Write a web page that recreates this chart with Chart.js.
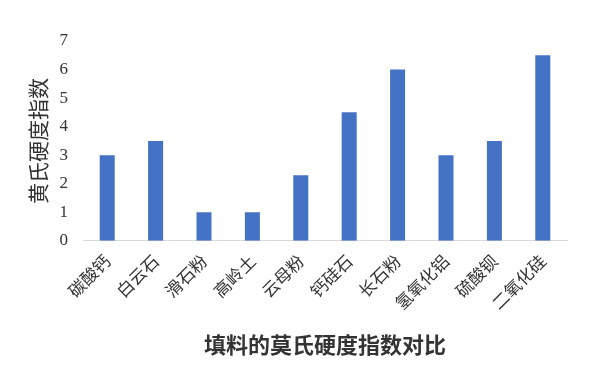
<!DOCTYPE html>
<html>
<head>
<meta charset="utf-8">
<script src="https://cdn.jsdelivr.net/npm/chart.js@4"></script>
<style>
  html, body { margin: 0; padding: 0; background: #fff; }
  #wrap { width: 597px; height: 371px; }
</style>
</head>
<body>
<div id="wrap"><canvas id="myChart" width="597" height="371"></canvas></div>
<script>
// 填料 names and Mohs hardness values
var categories = ['碳酸钙', '白云石', '滑石粉', '高岭土', '云母粉', '钙硅石', '长石粉', '氢氧化铝', '硫酸钡', '二氧化硅'];
var hardness = [3, 3.5, 1, 1, 2.3, 4.5, 6, 3, 3.5, 6.5];
var yTicks = [0, 1, 2, 3, 4, 5, 6, 7];

var cjk = '"Noto Sans CJK SC", sans-serif';
var textColor = '#333333';

var ctx = document.getElementById('myChart').getContext('2d');
var myChart = new Chart(ctx, {
    type: 'bar',
    data: {
        labels: categories,
        datasets: [{
            label: '莫氏硬度',
            data: hardness,
            backgroundColor: '#4472C4',
            borderWidth: 0,
            barPercentage: 0.31,
            categoryPercentage: 1
        }]
    },
    options: {
        responsive: false,
        animation: false,
        layout: {
            padding: { left: 20, right: 30, top: 41, bottom: 0 }
        },
        plugins: {
            legend: { display: false },
            tooltip: { enabled: false },
            title: {
                display: true,
                position: 'bottom',
                fullSize: false,
                text: '填料的莫氏硬度指数对比',
                color: textColor,
                font: { family: cjk, size: 22, weight: 'bold', lineHeight: 1.1 },
                padding: { top: 12, bottom: 14 }
            }
        },
        scales: {
            x: {
                grid: { display: false, drawTicks: false },
                border: { display: true, color: '#d9d9d9', width: 1 },
                ticks: {
                    color: textColor,
                    font: { family: cjk, size: 17 },
                    minRotation: 45,
                    maxRotation: 45,
                    padding: 10
                },
                afterFit: function (scale) { scale.height = 80; }
            },
            y: {
                min: 0,
                max: 7,
                grid: { display: false, drawTicks: false },
                border: { display: false },
                afterBuildTicks: function (scale) {
                    scale.ticks = yTicks.map(function (v) { return { value: v }; });
                },
                ticks: {
                    color: textColor,
                    font: { family: '"Liberation Serif", serif', size: 17 },
                    padding: 15
                },
                title: {
                    display: true,
                    text: '黄氏硬度指数',
                    color: textColor,
                    font: { family: cjk, size: 21 },
                    padding: { top: 5, bottom: 0 }
                },
                afterFit: function (scale) { scale.width = 63; }
            }
        }
    }
});
</script>
</body>
</html>
